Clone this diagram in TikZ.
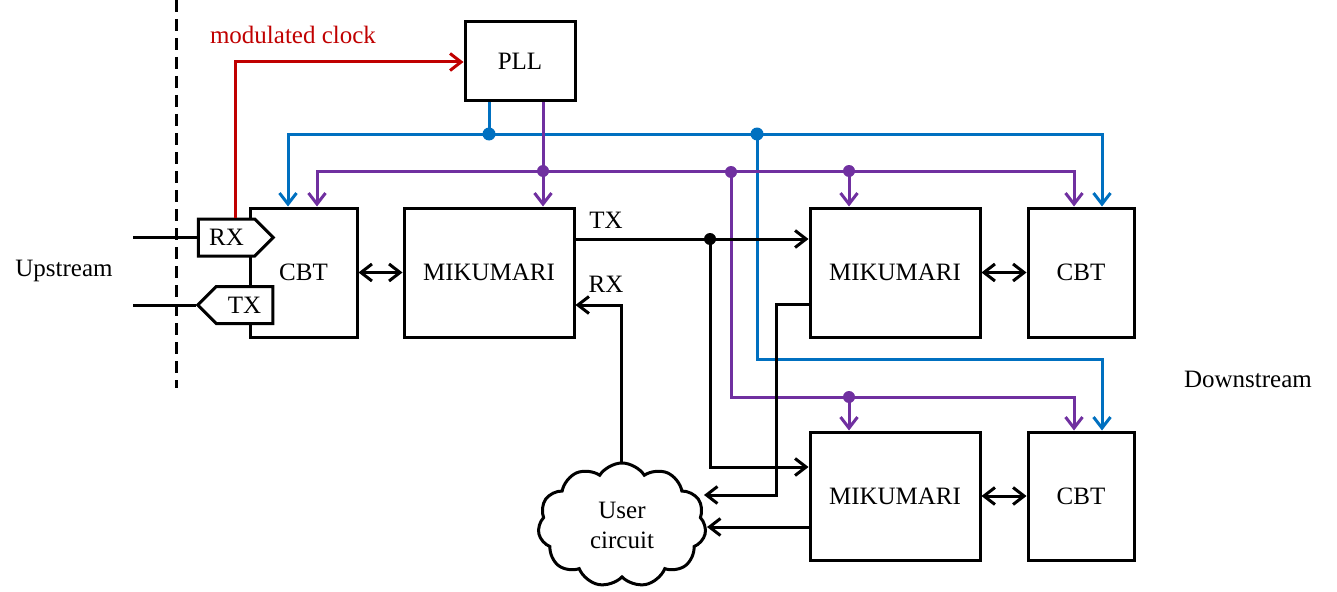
\documentclass[tikz,border=0pt]{standalone}
\usepackage{fontspec}
\setmainfont{Liberation Serif}
\usetikzlibrary{arrows.meta,shapes.symbols,shapes.arrows}
\definecolor{cred}{HTML}{C00000}
\definecolor{cblue}{HTML}{0070C0}
\definecolor{cpurp}{HTML}{7030A0}
\begin{document}
\begin{tikzpicture}[x=1pt,y=-1pt,line width=3pt,
  font=\fontsize{25}{30}\selectfont,
  blk/.style={draw,line width=3pt,minimum height=129pt,inner sep=0pt},
  mik/.style={blk,minimum width=170pt},
  cbt/.style={blk,minimum width=107pt},
  sig/.style={draw,fill=white,signal,minimum width=75pt,minimum height=37pt,inner sep=0pt,signal pointer angle=90},
  arr/.style={-{Straight Barb[length=11pt,width=17pt]}},
  dbl/.style={{Straight Barb[length=11pt,width=17pt]}-{Straight Barb[length=11pt,width=17pt]}},
  dot/.style={circle,fill,inner sep=0pt,minimum size=13pt},
  bl/.style={cblue,line width=3pt},
  pu/.style={cpurp,line width=3pt}]
\useasboundingbox (0,0) rectangle (1337,591);

% dashed boundary
\coordinate (dtop) at (176,0);
\coordinate (dbot) at (176,388);
\draw[dash pattern=on 12pt off 7pt] (dtop) -- (dbot);

% labels
\node (up) at (64,271) {Upstream};
\node (down) at (1248,379) {Downstream};
\node[text=cred] (mc) at (293,35) {modulated clock};

% boxes
\node[draw,minimum width=110pt,minimum height=79pt] (pll) at (520,61.5) {PLL};
\node[cbt] (cbtL) at (303.5,272.5) {CBT};
\node[mik] (mikL) at (489,272.5) {MIKUMARI};
\node[mik] (mikR) at (895,272.5) {MIKUMARI};
\node[cbt,minimum width=106pt] (cbtR) at (1081,272.5) {CBT};
\node[mik,minimum height=128pt] (mikB) at (895,496) {MIKUMARI};
\node[cbt,minimum width=106pt,minimum height=128pt] (cbtB) at (1081,496) {CBT};

% RX / TX ports
\node[sig,signal to=east] (rx) at (226.5,237.5) {RX};
\node[sig,signal to=west] (tx) at (244.5,305) {TX};
\coordinate (rxin) at (133,237.5);
\coordinate (txin) at (133,305);
\draw (rxin) -- (rx.west);
\draw (txin) -- (tx.west);

% cloud
\node[draw,cloud,cloud puffs=11,cloud puff arc=115,aspect=1.4,
      minimum width=168pt,minimum height=124pt,align=center,inner sep=0pt] (user) at (622,525) {User\\circuit};

% red clock
\coordinate (rc) at (235,62);
\draw[cred,arr] (rx.north -| rc) -- (rc) -- (pll.west |- rc);

% blue distribution
\coordinate (bd1) at (489,134);
\coordinate (bd2) at (757,134);
\coordinate (bj) at (757,359);
\draw[bl] (bd1 |- pll.south) -- (bd1);
\draw[bl,dbl] ([xshift=-15.5pt]cbtL.north) |- (bd1) -| ([xshift=21pt]cbtR.north);
\draw[bl,arr] (bd2) -- (bj) -| ([xshift=21pt]cbtB.north);
\node[dot,cblue] (bdot1) at (bd1) {};
\node[dot,cblue] (bdot2) at (bd2) {};

% purple distribution
\coordinate (pd1) at (543,171);
\coordinate (pd2) at (849,171);
\coordinate (pd3) at (731,172);
\coordinate (pj) at (731,397);
\coordinate (pd4) at (849,397);
\draw[pu,arr] (pd1 |- pll.south) -- ([xshift=54pt]mikL.north);
\draw[pu,dbl] ([xshift=13.5pt]cbtL.north) |- (pd1) -| ([xshift=-7pt]cbtR.north);
\draw[pu,arr] (pd2) -- ([xshift=-46pt]mikR.north);
\draw[pu,arr] (pd3) -- (pj) -| ([xshift=-7pt]cbtB.north);
\draw[pu,arr] (pd4) -- ([xshift=-46pt]mikB.north);
\node[dot,cpurp,minimum size=12pt] (pdot1) at (pd1) {};
\node[dot,cpurp,minimum size=12pt] (pdot2) at (pd2) {};
\node[dot,cpurp,minimum size=12pt] (pdot3) at (pd3) {};
\node[dot,cpurp,minimum size=12pt] (pdot4) at (pd4) {};

% black links
\draw[dbl] (cbtL.east) -- (mikL.west);
\draw[dbl] (mikR.east) -- (cbtR.west);
\draw[dbl] (mikB.east) -- (cbtB.west);

\coordinate (kd) at (710,239);
\coordinate (kt) at (710,467);
\draw[arr] (mikL.east |- kd) -- (mikR.west |- kd);
\draw[arr] (kd) -- (kt) -- (mikB.west |- kt);
\node[dot,black,minimum size=12pt] (kdot) at (kd) {};
\node (txl) at (606,220) {TX};
\node (rxl) at (606,284) {RX};

\coordinate (rt) at (621,305);
\draw[arr] (user.north -| rt) -- (rt) -- (mikL.east |- rt);

\coordinate (c1) at (776,304);
\coordinate (c2) at (776,495);
\coordinate (ua) at (704,495);
\coordinate (ub) at (707,527);
\draw[arr] (mikR.west |- c1) -- (c1) -- (c2) -- (ua);
\draw[arr] (mikB.west |- ub) -- (ub);
\end{tikzpicture}
\end{document}
